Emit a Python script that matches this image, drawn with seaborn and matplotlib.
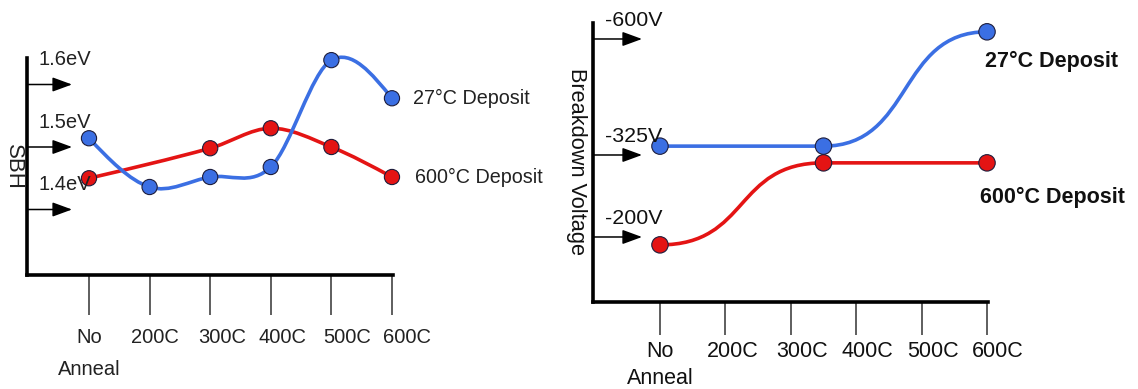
import numpy as np
import pandas as pd
import seaborn as sns
import matplotlib.pyplot as plt
from matplotlib.path import Path
from matplotlib.patches import PathPatch
from matplotlib.transforms import ScaledTranslation

# x categories (anneal temperature, 0 = no anneal)
anneal_labels = ["No\nAnneal", "200C", "300C", "400C", "500C", "600C"]
anneal_temps = [0, 200, 300, 400, 500, 600]

# left panel: Schottky barrier height (eV)
sbh_27c_temps = [0, 200, 300, 400, 500, 600]
sbh_27c = [1.514, 1.436, 1.452, 1.468, 1.639, 1.578]
sbh_600c_temps = [0, 300, 400, 500, 600]
sbh_600c = [1.450, 1.498, 1.530, 1.500, 1.452]
sbh_ticks = [1.4, 1.5, 1.6]
sbh_tick_labels = ["1.4eV", "1.5eV", "1.6eV"]

# right panel: breakdown voltage (V)
bv_temps = [0, 350, 600]
bv_27c = [-346, -346, -617]
bv_600c = [-188, -313, -313]
bv_ticks = [-600, -325, -200]
bv_tick_labels = ["-600V", "-325V", "-200V"]

BLUE = "#3b6fe3"
RED = "#e41414"
EDGE = "#1d1d3c"


def tpos(t):
    # anneal temperature -> slot on the category axis
    return 0.0 if t == 0 else (t - 100) / 100.0


def smooth_path(xs, ys, flat=False, k=1 / 3):
    # cubic bezier through the points (catmull-rom style tangents)
    xs, ys = np.asarray(xs, float), np.asarray(ys, float)
    n = len(xs)
    m = np.zeros(n)
    if not flat:
        for i in range(1, n - 1):
            m[i] = (ys[i + 1] - ys[i - 1]) / (xs[i + 1] - xs[i - 1])
        m[0] = (3 * (ys[1] - ys[0]) / (xs[1] - xs[0]) - m[1]) / 2
        m[-1] = (3 * (ys[-1] - ys[-2]) / (xs[-1] - xs[-2]) - m[-2]) / 2
    verts = [(xs[0], ys[0])]
    codes = [Path.MOVETO]
    for i in range(n - 1):
        dx = xs[i + 1] - xs[i]
        verts += [(xs[i] + k * dx, ys[i] + m[i] * k * dx),
                  (xs[i + 1] - k * dx, ys[i + 1] - m[i + 1] * k * dx),
                  (xs[i + 1], ys[i + 1])]
        codes += [Path.CURVE4] * 3
    return Path(verts, codes)


# uneven spacing of the voltage levels in the sketch
def bv_forward(v):
    v = np.asarray(v, float)
    return np.where(v <= -325, 155 + (v + 325) * 116 / 275, 155 + (v + 325) * 82 / 125)


def bv_inverse(p):
    p = np.asarray(p, float)
    return np.where(p <= 155, -325 + (p - 155) * 275 / 116, -325 + (p - 155) * 125 / 82)


def shift_labels(ax, fig, shifts):
    for lbl, dx in zip(ax.get_xticklabels(), shifts):
        lbl.set_transform(lbl.get_transform() + ScaledTranslation(dx / 100, 0, fig.dpi_scale_trans))


sns.set_style("white")
plt.rcParams["font.family"] = ["Liberation Sans", "DejaVu Sans"]

W, H = 1138, 389
fig = plt.figure(figsize=(W / 100, H / 100), dpi=100)
fig.patch.set_facecolor("white")

ax1 = fig.add_axes([27 / W, 1 - 275 / H, 366 / W, 217 / H])
ax2 = fig.add_axes([593 / W, 1 - 302 / H, 395 / W, 279 / H])

# === LEFT: SBH ===
df_sbh = pd.concat([
    pd.DataFrame({"pos": [tpos(t) for t in sbh_27c_temps], "sbh": sbh_27c, "deposit": "27C"}),
    pd.DataFrame({"pos": [tpos(t) for t in sbh_600c_temps], "sbh": sbh_600c, "deposit": "600C"}),
])
for dep, col in [("600C", RED), ("27C", BLUE)]:
    d = df_sbh[df_sbh["deposit"] == dep]
    ax1.add_patch(PathPatch(smooth_path(d["pos"], d["sbh"]), fc="none", ec=col,
                            lw=2.6, clip_on=False, zorder=2))
sns.scatterplot(data=df_sbh, x="pos", y="sbh", hue="deposit",
                palette={"27C": BLUE, "600C": RED}, s=120, edgecolor=EDGE,
                linewidth=0.8, legend=False, clip_on=False, zorder=3, ax=ax1)
ax1.set_xlim(-1.023, 5.017)
ax1.set_ylim(1.2952, 1.6424)

for v, lab in zip(sbh_ticks, sbh_tick_labels):
    ax1.annotate("", xy=(-0.28, v), xytext=(-1.023, v), annotation_clip=False,
                 arrowprops=dict(arrowstyle="-|>,head_length=0.6,head_width=0.22",
                                 mutation_scale=20, color="black", lw=1.1,
                                 shrinkA=0, shrinkB=0))
    ax1.annotate(lab, xy=(-1.023, v), xytext=(12, 25), textcoords="offset pixels",
                 ha="left", va="center", fontsize=14.5, color="#222222",
                 annotation_clip=False)

ax1.annotate("27°C Deposit", xy=(5, sbh_27c[-1]), xytext=(21, 0),
             textcoords="offset pixels", ha="left", va="center",
             fontsize=14.2, color="#222222", annotation_clip=False)
ax1.annotate("600°C Deposit", xy=(5, sbh_600c[-1]), xytext=(23, 0),
             textcoords="offset pixels", ha="left", va="center",
             fontsize=14.2, color="#222222", annotation_clip=False)

ax1.set_xticks([tpos(t) for t in anneal_temps], anneal_labels)
ax1.set_yticks([])
ax1.tick_params(axis="x", length=28.8, width=1.1, color="#333333", direction="out",
                pad=9.5, labelsize=14.5, labelcolor="#222222", bottom=True)
for lbl in ax1.get_xticklabels():
    lbl.set_linespacing(1.85)
shift_labels(ax1, fig, [0, 5, 12, 12, 16, 15])
ax1.set_xlabel("")
ax1.set_ylabel("")
fig.text(13 / W, 1 - 167 / H, "SBH", rotation=-90, ha="center", va="center",
         fontsize=16, color="#222222")

# === RIGHT: breakdown voltage ===
ax2.set_yscale("function", functions=(bv_forward, bv_inverse))
df_bv = pd.concat([
    pd.DataFrame({"pos": [tpos(t) for t in bv_temps], "bv": bv_27c, "deposit": "27C"}),
    pd.DataFrame({"pos": [tpos(t) for t in bv_temps], "bv": bv_600c, "deposit": "600C"}),
])
for dep, col in [("600C", RED), ("27C", BLUE)]:
    d = df_bv[df_bv["deposit"] == dep]
    ax2.add_patch(PathPatch(smooth_path(d["pos"], d["bv"], flat=True, k=0.55),
                            fc="none", ec=col, lw=2.6, clip_on=False, zorder=2))
sns.scatterplot(data=df_bv, x="pos", y="bv", hue="deposit",
                palette={"27C": BLUE, "600C": RED}, s=140, edgecolor=EDGE,
                linewidth=0.8, legend=False, clip_on=False, zorder=3, ax=ax2)
ax2.set_xlim(-1.024, 5.015)
ax2.set_ylim(-100.9, -637.9)

for v, lab in zip(bv_ticks, bv_tick_labels):
    ax2.annotate("", xy=(-0.275, v), xytext=(-1.024, v), annotation_clip=False,
                 arrowprops=dict(arrowstyle="-|>,head_length=0.6,head_width=0.22",
                                 mutation_scale=20, color="black", lw=1.1,
                                 shrinkA=0, shrinkB=0))
    ax2.annotate(lab, xy=(-1.024, v), xytext=(12, 18), textcoords="offset pixels",
                 ha="left", va="center", fontsize=15.4, color="#111111",
                 annotation_clip=False)

ax2.annotate("27°C Deposit", xy=(5, bv_27c[-1]), xytext=(-2, -30),
             textcoords="offset pixels", ha="left", va="center",
             fontsize=15.5, fontweight="bold", color="#111111", annotation_clip=False)
ax2.annotate("600°C Deposit", xy=(5, bv_600c[-1]), xytext=(-7, -35),
             textcoords="offset pixels", ha="left", va="center",
             fontsize=15.5, fontweight="bold", color="#111111", annotation_clip=False)

ax2.set_xticks([tpos(t) for t in anneal_temps], anneal_labels)
ax2.set_yticks([])
ax2.yaxis.set_minor_locator(plt.NullLocator())
ax2.tick_params(axis="x", length=23.8, width=1.1, color="#333333", direction="out",
                pad=4, labelsize=15.5, labelcolor="#111111", bottom=True)
for lbl in ax2.get_xticklabels():
    lbl.set_linespacing(1.4)
shift_labels(ax2, fig, [0, 7, 11, 11, 11, 11])
ax2.set_xlabel("")
ax2.set_ylabel("")
fig.text(577 / W, 1 - 162 / H, "Breakdown Voltage", rotation=-90, ha="center",
         va="center", fontsize=15.7, color="#111111")

for ax in (ax1, ax2):
    sns.despine(ax=ax)
    ax.set_facecolor("none")
    for s in ("left", "bottom"):
        ax.spines[s].set_linewidth(2.6)
        ax.spines[s].set_color("black")

fig.savefig("out.png", dpi=100)
